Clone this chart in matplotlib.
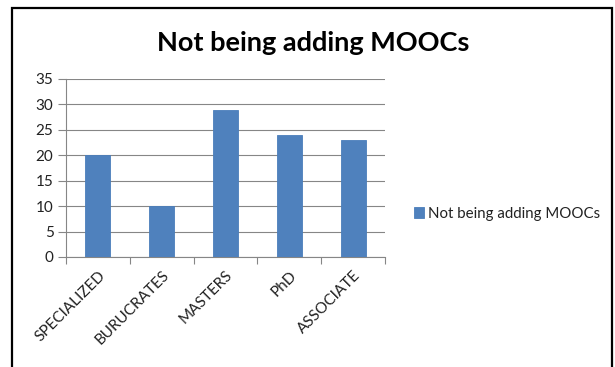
import matplotlib.pyplot as plt
from matplotlib.patches import Rectangle

# survey counts per group
groups = ['SPECIALIZED', 'BURUCRATES', 'MASTERS', 'PhD', 'ASSOCIATE']
counts = [20, 10, 29, 24, 23]
series_name = 'Not being adding MOOCs'
y_ticks = [0, 5, 10, 15, 20, 25, 30, 35]

plt.rcParams['font.family'] = ['Lato', 'DejaVu Sans']

W, H = 615, 367
fig = plt.figure(figsize=(W / 100, H / 100), dpi=100)
ax = fig.add_axes([66 / W, 1 - 257 / H, (385 - 66) / W, (257 - 79) / H])

x = list(range(len(groups)))
bars = ax.bar(x, counts, width=0.39, color='#4F81BD', edgecolor='#4A7EBB',
              linewidth=0.6, label=series_name, zorder=3)

ax.set_xlim(-0.5, len(groups) - 0.5)
ax.set_ylim(0, 35)
ax.set_yticks(y_ticks)
ax.set_xticks([i + 0.5 for i in range(-1, len(groups))], minor=False)
ax.set_xticklabels([])
ax.set_xticks(x, minor=True)
ax.set_xticklabels(groups, minor=True, rotation=45, ha='right',
                   rotation_mode='anchor', fontsize=11, color='#222222')
ax.tick_params(axis='x', which='minor', length=0, pad=8)
ax.tick_params(axis='x', which='major', length=5, color='#868686', width=0.8)
ax.tick_params(axis='y', length=6, color='#868686', width=0.8,
               labelsize=11, labelcolor='#222222', pad=3)

ax.yaxis.grid(True, color='#868686', linewidth=0.8, zorder=0)
for side in ['top', 'right']:
    ax.spines[side].set_visible(False)
for side in ['left', 'bottom']:
    ax.spines[side].set_color('#868686')
    ax.spines[side].set_linewidth(0.8)

fig.text(313 / W, 1 - 51 / H, series_name, ha='center', va='baseline',
         fontsize=19.5, fontweight='bold', color='black')

fig.legend(handles=[bars], labels=[series_name], loc='center left',
           bbox_to_anchor=(400 / W, 1 - 214 / H), frameon=False,
           fontsize=10.8, handlelength=0.7, handleheight=0.7,
           handletextpad=0.3, labelcolor='#222222')

# chart border
fig.patches.append(Rectangle((12 / W, -0.05), (612 - 12) / W, 1 - 8 / H + 0.05,
                             transform=fig.transFigure, fill=False,
                             edgecolor='black', linewidth=1.6))

fig.savefig('out.png', dpi=100, facecolor='white')
